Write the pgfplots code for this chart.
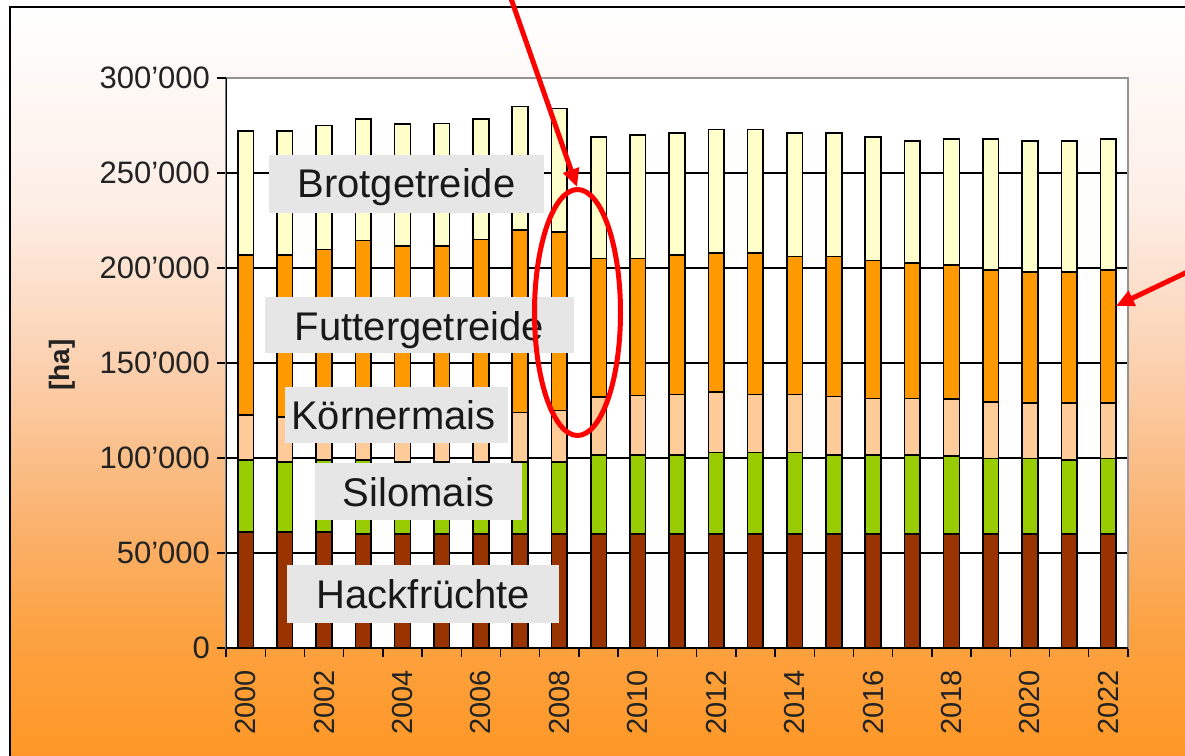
\documentclass[border=0pt]{standalone}
\usepackage{pgfplots}
\pgfplotsset{compat=1.18}
\usepackage{pgfplotstable}
\usepackage{fontspec}
\setmainfont{Liberation Sans}
\usetikzlibrary{arrows.meta}

\definecolor{cHack}{RGB}{153,51,0}
\definecolor{cSilo}{RGB}{153,204,0}
\definecolor{cKorn}{RGB}{255,204,153}
\definecolor{cFutter}{RGB}{255,153,0}
\definecolor{cBrot}{RGB}{255,255,204}
\definecolor{boxgray}{RGB}{230,230,230}
\definecolor{tickgray}{RGB}{35,35,35}
\definecolor{o0}{RGB}{255,150,35}
\definecolor{o1}{RGB}{252,162,65}
\definecolor{o2}{RGB}{250,180,115}
\definecolor{o3}{RGB}{251,210,178}
\definecolor{o4}{RGB}{253,238,230}

\pgfdeclareverticalshading{bgshade}{100bp}{color(0bp)=(o0); color(25bp)=(o0); color(34bp)=(o1); color(42bp)=(o2); color(52bp)=(o3); color(62bp)=(o4); color(75bp)=(white); color(100bp)=(white)}

\pgfplotstableread{
x H S K F B
0 61000 38000 23600 84400 65000
1 61000 37000 23700 85300 65000
2 61000 38000 23000 87800 65200
3 60000 39000 22500 92900 64000
4 60000 38000 23000 90600 64200
5 60000 38000 23000 90600 64400
6 60000 38000 23500 93500 63400
7 60000 38000 26000 96000 65000
8 60000 38000 27000 94000 65000
9 60000 41600 30400 73000 64000
10 60000 41600 31200 72200 65000
11 60000 41600 31900 73500 64000
12 60000 42800 31800 73400 65000
13 60000 42800 30700 74500 65000
14 60000 42800 30700 72500 65000
15 60000 41600 30700 73700 65000
16 60000 41600 29800 72600 65000
17 60000 41600 29800 71100 64500
18 60000 40900 30000 70700 66400
19 60000 39800 29800 69400 69000
20 60000 39800 29000 69200 69000
21 60000 38900 29900 69200 69000
22 60000 39800 29000 70200 69000
}\data

\begin{document}
\begin{tikzpicture}
\useasboundingbox (0pt,0pt) rectangle (592.5pt,-378pt);
\begin{scope}[x=0.5pt,y=-0.5pt]
\shade[shading=bgshade] (10,7) rectangle (1200,770);
\draw[black, line width=1pt] (10,770) -- (10,7) -- (1200,7);
\end{scope}

\begin{axis}[
  at={(113pt,-324pt)}, anchor=south west,
  scale only axis, width=451pt, height=285pt,
  ybar stacked, bar width=0.4,
  xmin=-0.5, xmax=22.5, ymin=0, ymax=300000,
  scaled y ticks=false,
  axis background/.style={fill=white},
  axis line style={draw=gray!85, line width=0.6pt},
  tick align=outside, tick pos=left,
  major tick length=4.5pt,
  tick style={black, line width=0.7pt},
  xtick={-0.5,0.5,...,22.5}, xticklabels={},
  extra x ticks={0,2,...,22},
  extra x tick labels={2000,2002,2004,2006,2008,2010,2012,2014,2016,2018,2020,2022},
  extra x tick style={major tick length=0pt, xticklabel style={yshift=-7.5pt, rotate=90, anchor=east}},
  ytick={0,50000,100000,150000,200000,250000},
  yticklabels={0,50'000,100'000,150'000,200'000,250'000},
  extra y ticks={300000}, extra y tick labels={300'000}, extra y tick style={grid=none},
  ymajorgrids, grid style={black, line width=0.7pt},
  xticklabel style={font=\fontsize{14.5}{17}\selectfont, text=tickgray},
  yticklabel style={font=\fontsize{15.5}{18}\selectfont, text=tickgray},
  every axis plot/.append style={draw=black, line width=0.8pt},
]
\addplot[fill=cHack] table[x=x,y=H]{\data};
\addplot[fill=cSilo] table[x=x,y=S]{\data};
\addplot[fill=cKorn] table[x=x,y=K]{\data};
\addplot[fill=cFutter] table[x=x,y=F]{\data};
\addplot[fill=cBrot] table[x=x,y=B]{\data};
\draw[black, line width=0.8pt] (rel axis cs:0,1) -- (rel axis cs:0,0) -- (rel axis cs:1,0);
\end{axis}

\begin{scope}[x=0.5pt,y=-0.5pt]
\node[rotate=90, font=\bfseries\fontsize{14}{16}\selectfont, text=tickgray] at (62,365) {[ha]};
\fill[boxgray] (269,155) rectangle (544,213);
\fill[boxgray] (265,297) rectangle (574,353);
\fill[boxgray] (285,387) rectangle (508,443);
\fill[boxgray] (315,463) rectangle (522,520);
\fill[boxgray] (287,565) rectangle (559,623);
\begin{scope}[every node/.style={anchor=base, inner sep=0pt, font=\fontsize{20}{24}\selectfont, text=black!90}]
\node at (406.5,197) {Brotgetreide};
\node at (419.5,340) {Futtergetreide};
\node at (393.5,429) {Körnermais};
\node at (418.5,506.7) {Silomais};
\node at (423.5,608) {Hackfrüchte};
\end{scope}
\draw[red, line width=2.5pt] (577.5,312.5) ellipse [x radius=21.5pt, y radius=61.5pt];
\draw[red, line width=2.5pt, -{Triangle[length=9pt,width=8pt]}] (508,-10) -- (577,187);
\draw[red, line width=2.5pt, -{Triangle[length=9pt,width=8pt]}] (1200,266) -- (1116,306);
\end{scope}
\end{tikzpicture}
\end{document}
